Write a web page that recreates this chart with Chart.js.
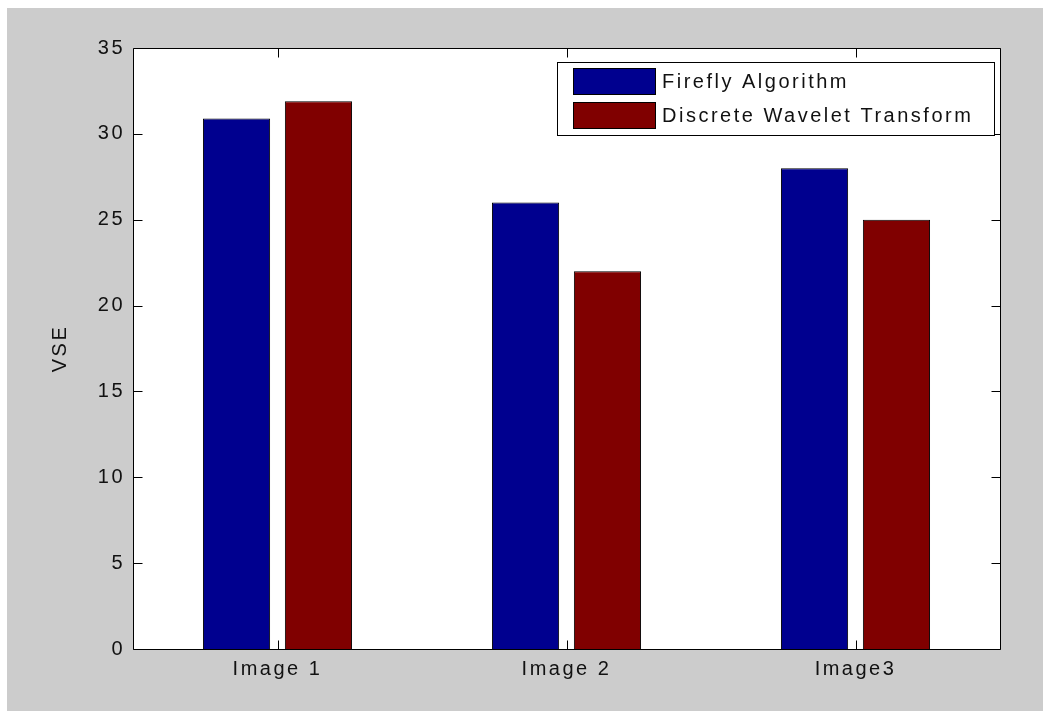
<!DOCTYPE html>
<html>
<head>
<meta charset="utf-8">
<script src="https://cdn.jsdelivr.net/npm/chart.js@4"></script>
<style>
  html, body { margin: 0; padding: 0; background: #ffffff; }
  #wrap { width: 1043px; height: 711px; }
</style>
</head>
<body>
<div id="wrap"><canvas id="c" width="1043" height="711"></canvas></div>
<script>
const categories = ['Image 1', 'Image 2', 'Image3'];
const fireflyValues = [30.9, 26, 28];
const dwtValues = [31.9, 22, 25];
const seriesNames = ['Firefly Algorithm', 'Discrete Wavelet Transform'];
const yTitle = 'VSE';
const yMin = 0, yMax = 35, yStep = 5;

const FONT = '"Liberation Sans", Arial, sans-serif';
const SPACING = '2.5px';

const matlabPlugin = {
  id: 'matlabLook',
  beforeUpdate(chart) { chart.ctx.letterSpacing = SPACING; },
  beforeDraw(chart) {
    const ctx = chart.ctx;
    ctx.letterSpacing = SPACING;
    ctx.save();
    ctx.fillStyle = '#cccccc';
    ctx.fillRect(7, 8, chart.width - 7, chart.height - 8);
    const a = chart.chartArea;
    ctx.fillStyle = '#ffffff';
    ctx.fillRect(a.left, a.top, a.right - a.left, a.bottom - a.top);
    ctx.restore();
  },
  afterDatasetsDraw(chart) {
    const ctx = chart.ctx;
    const a = chart.chartArea;
    const x = chart.scales.x, y = chart.scales.y;
    ctx.save();
    ctx.strokeStyle = '#000000';
    ctx.lineWidth = 1;
    const L = Math.round(a.left) + 0.5, R = Math.round(a.right) + 0.5;
    const T = Math.round(a.top) + 0.5, B = Math.round(a.bottom) + 0.5;
    ctx.beginPath();
    ctx.rect(L, T, R - L, B - T);
    ctx.stroke();
    const tl = 9;
    ctx.beginPath();
    y.ticks.forEach(t => {
      const py = Math.round(y.getPixelForValue(t.value)) + 0.5;
      ctx.moveTo(L, py); ctx.lineTo(L + tl, py);
      ctx.moveTo(R, py); ctx.lineTo(R - tl, py);
    });
    x.ticks.forEach((t, i) => {
      const px = Math.round(x.getPixelForTick(i)) + 0.5;
      ctx.moveTo(px, B); ctx.lineTo(px, B - tl);
      ctx.moveTo(px, T); ctx.lineTo(px, T + tl);
    });
    ctx.stroke();

    // legend box (Matlab style)
    const lx = 557.5, ly = 62.5, lw = 437, lh = 73;
    ctx.fillStyle = '#ffffff';
    ctx.fillRect(lx, ly, lw, lh);
    ctx.strokeRect(lx, ly, lw, lh);
    ctx.font = '20px ' + FONT;
    ctx.letterSpacing = SPACING;
    ctx.textBaseline = 'middle';
    ctx.textAlign = 'left';
    chart.data.datasets.forEach((ds, i) => {
      const sy = 68.5 + i * 34;
      ctx.fillStyle = ds.backgroundColor;
      ctx.fillRect(573.5, sy, 82, 26);
      ctx.strokeRect(573.5, sy, 82, 26);
      ctx.fillStyle = '#111111';
      ctx.fillText(ds.label, 662, sy + 14);
    });
    ctx.restore();
  }
};

new Chart(document.getElementById('c'), {
  type: 'bar',
  data: {
    labels: categories,
    datasets: [
      { label: seriesNames[0], data: fireflyValues, backgroundColor: '#00008F', borderColor: '#000000', borderWidth: 1 },
      { label: seriesNames[1], data: dwtValues, backgroundColor: '#800000', borderColor: '#000000', borderWidth: 1 }
    ]
  },
  options: {
    responsive: false,
    animation: false,
    devicePixelRatio: 1,
    layout: { padding: { left: 0, top: 48, right: 43, bottom: 0 } },
    datasets: { bar: { categoryPercentage: 0.567, barPercentage: 0.82 } },
    plugins: { legend: { display: false }, tooltip: { enabled: false } },
    scales: {
      x: {
        grid: { display: false, drawTicks: false },
        border: { display: false },
        ticks: { color: '#111111', font: { family: FONT, size: 20 }, padding: 8, maxRotation: 0 },
        afterFit(s) { s.height = 62; }
      },
      y: {
        min: yMin, max: yMax,
        grid: { display: false, drawTicks: false },
        border: { display: false },
        ticks: { stepSize: yStep, color: '#111111', font: { family: FONT, size: 20 }, padding: 8 },
        title: { display: true, text: yTitle, color: '#111111', font: { family: FONT, size: 20 }, padding: { top: 48, bottom: 0 } },
        afterFit(s) { s.width = 133; }
      }
    }
  },
  plugins: [matlabPlugin]
});
</script>
</body>
</html>
